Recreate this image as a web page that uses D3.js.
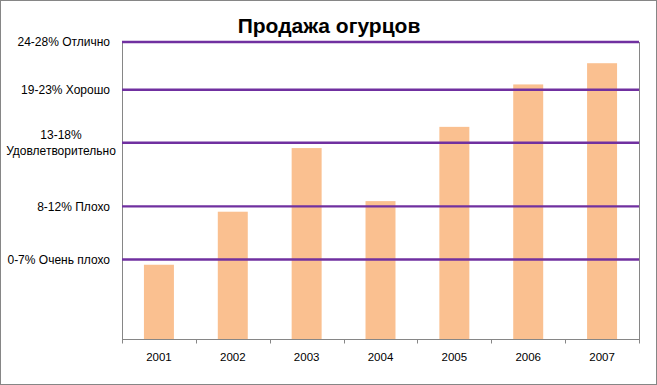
<!DOCTYPE html>
<html>
<head>
<meta charset="utf-8">
<script src="https://cdn.jsdelivr.net/npm/d3@7"></script>
<style>
    body { margin: 0; background: #fff; }
    text { font-family: "Liberation Sans", Arial, sans-serif; fill: #000; }
    .axis path, .axis line { stroke: #868686; }
    .grid { stroke: #7030a0; stroke-width: 2.4; }
    .bar { fill: #fac090; }
</style>
</head>
<body>
<div class="container"></div>
<script>
const WIDTH = 657;
const HEIGHT = 385;
const LEFT = 122, RIGHT = 639, TOP = 42, BOTTOM = 339;

// data
var years = ["2001", "2002", "2003", "2004", "2005", "2006", "2007"];
var sales = [7, 12, 18, 13, 20, 24, 26];
var levelValues = [7.5, 12.5, 18.5, 23.5, 28];
var levelLabels = ["0-7% Очень плохо", "8-12% Плохо", "13-18%\nУдовлетворительно", "19-23% Хорошо", "24-28% Отлично"];

var svg = d3.select('.container').append('svg')
    .attr('width', WIDTH)
    .attr('height', HEIGHT);

svg.append('rect')
    .attr('x', 0.5).attr('y', 0.5)
    .attr('width', WIDTH - 1).attr('height', HEIGHT - 1)
    .attr('fill', '#fff')
    .attr('stroke', '#868686');

var xScale = d3.scaleBand()
    .domain(years)
    .range([LEFT, RIGHT])
    .paddingInner(0.594)
    .paddingOuter(0.297);

var yScale = d3.scaleLinear()
    .domain([0, 28])
    .range([BOTTOM, TOP]);

// bars
svg.selectAll('.bar')
    .data(sales)
    .enter().append('rect')
    .classed('bar', true)
    .attr('x', function (d, i) { return xScale(years[i]); })
    .attr('width', xScale.bandwidth())
    .attr('y', function (d) { return yScale(d); })
    .attr('height', function (d) { return BOTTOM - yScale(d); });

// left and right frame of plot
svg.append('line')
    .attr('x1', LEFT + 0.5).attr('x2', LEFT + 0.5)
    .attr('y1', TOP).attr('y2', BOTTOM)
    .attr('stroke', '#868686');
svg.append('line')
    .attr('x1', RIGHT + 0.5).attr('x2', RIGHT + 0.5)
    .attr('y1', TOP).attr('y2', BOTTOM)
    .attr('stroke', '#868686');

// level lines
svg.selectAll('.grid')
    .data(levelValues)
    .enter().append('line')
    .classed('grid', true)
    .attr('x1', LEFT).attr('x2', RIGHT)
    .attr('y1', function (d) { return yScale(d); })
    .attr('y2', function (d) { return yScale(d); });

// level labels
var labels = svg.selectAll('.level-label')
    .data(levelValues)
    .enter().append('text')
    .classed('level-label', true)
    .attr('font-size', 12)
    .attr('y', function (d) { return yScale(d); });

labels.each(function (d, i) {
    var lines = levelLabels[i].split('\n');
    var t = d3.select(this);
    if (lines.length == 1) {
        t.attr('x', 110).attr('text-anchor', 'end').attr('dy', '0.35em').text(lines[0]);
    } else {
        t.attr('text-anchor', 'middle');
        lines.forEach(function (s, k) {
            t.append('tspan')
                .attr('x', 61)
                .attr('dy', k == 0 ? '-0.3em' : '1.35em')
                .text(s);
        });
    }
});

// x axis
var xAxis = d3.axisBottom(xScale).tickSize(0).tickPadding(13);
var gx = svg.append('g')
    .attr('class', 'axis')
    .attr('transform', 'translate(0,' + (BOTTOM + 0.5) + ')')
    .call(xAxis);
gx.select('.domain').attr('d', 'M' + LEFT + ',0H' + (RIGHT + 1));
gx.selectAll('text').attr('font-size', 11.5).attr('font-family', '"Liberation Sans", Arial, sans-serif');

var step = xScale.step();
gx.selectAll('.boundary')
    .data(d3.range(years.length + 1))
    .enter().append('line')
    .attr('class', 'boundary')
    .attr('stroke', '#868686')
    .attr('x1', function (i) { return Math.round(LEFT + i * step) + 0.5; })
    .attr('x2', function (i) { return Math.round(LEFT + i * step) + 0.5; })
    .attr('y1', 0).attr('y2', 4);

// title
svg.append('text')
    .attr('x', 329)
    .attr('y', 33)
    .attr('text-anchor', 'middle')
    .attr('font-size', 21)
    .attr('font-weight', 'bold')
    .text('Продажа огурцов');
</script>
</body>
</html>
